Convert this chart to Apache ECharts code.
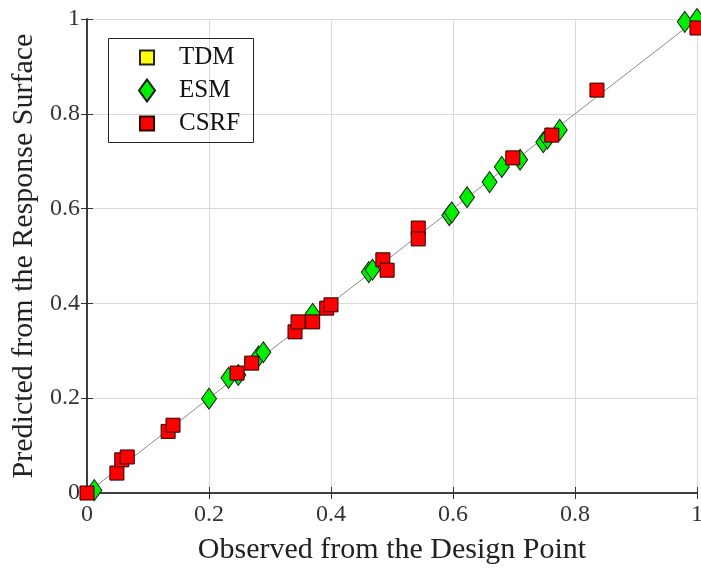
<!DOCTYPE html>
<html>
<head>
<meta charset="utf-8">
<script src="https://cdn.jsdelivr.net/npm/echarts@6/dist/echarts.min.js"></script>
<style>
html, body { margin: 0; padding: 0; background: #fff; }
#chart { width: 701px; height: 571px; }
</style>
</head>
<body>
<div id="chart"></div>
<script>
// axis ticks
var tickValues = [0, 0.2, 0.4, 0.6, 0.8, 1];
var seriesNames = ['TDM', 'ESM', 'CSRF'];

// points: [observed, predicted]
var tdmData = [];
var esmData = [
	[0.012, 0.006], [0.2, 0.199], [0.232, 0.243], [0.248, 0.249],
	[0.281, 0.288], [0.289, 0.297], [0.37, 0.378], [0.462, 0.466],
	[0.468, 0.471], [0.594, 0.586], [0.598, 0.592], [0.623, 0.624],
	[0.66, 0.656], [0.68, 0.688], [0.71, 0.703], [0.748, 0.74],
	[0.755, 0.748], [0.775, 0.766], [0.98, 0.994], [1.0, 1.0]
];
var csrfData = [
	[0, 0], [0.049, 0.042], [0.057, 0.07], [0.066, 0.076],
	[0.133, 0.13], [0.141, 0.143], [0.246, 0.253], [0.27, 0.274],
	[0.341, 0.34], [0.346, 0.361], [0.37, 0.361], [0.393, 0.39],
	[0.40, 0.397], [0.485, 0.492], [0.492, 0.47], [0.543, 0.559],
	[0.543, 0.536], [0.698, 0.707], [0.762, 0.755], [0.836, 0.85],
	[1.0, 0.981]
];
var refLine = [[0, 0], [1, 1]];

var serif = 'Liberation Serif';
var axisColor = '#333';

function labelFmt(v){
	return String(Math.round(v * 10) / 10);
}

// one legend per entry so each icon keeps its own size
function legendFor(name, centerY, w, h){
	return {
		data: [name],
		orient: 'vertical',
		left: 146 - w / 2,
		top: centerY - 11,
		padding: 0,
		itemWidth: w,
		itemHeight: h,
		selectedMode: false,
		textStyle: {
			fontFamily: serif,
			fontSize: 25,
			lineHeight: 22,
			color: '#111',
			padding: [0, 0, 0, 27 - w / 2]
		}
	};
}

var option = {
	backgroundColor: '#fff',
	animation: false,
	grid: { left: 87, right: 4, top: 19, bottom: 78, outerBoundsMode: 'none' },
	legend: [
		legendFor('TDM', 56, 14, 14),
		legendFor('ESM', 89, 16, 22),
		legendFor('CSRF', 122, 14, 14)
	],
	graphic: [{
		type: 'rect',
		left: 106, top: 36,
		shape: { width: 145, height: 104 },
		style: { fill: 'none', stroke: '#222', lineWidth: 1 },
		z: 10
	}],
	xAxis: [{
		type: 'value', min: 0, max: 1, interval: 0.2,
		name: 'Observed from the Design Point',
		nameLocation: 'middle', nameGap: 42,
		nameTextStyle: { fontFamily: serif, fontSize: 30, color: '#222' },
		axisLine: { lineStyle: { color: axisColor, width: 1.5 } },
		axisTick: { inside: true, length: 6, lineStyle: { color: axisColor } },
		axisLabel: { fontFamily: serif, fontSize: 24, color: '#333', margin: 10, formatter: labelFmt },
		splitLine: { lineStyle: { color: '#dadada', width: 1 } }
	}, {
		type: 'value', min: 0, max: 1, interval: 0.2, position: 'top',
		axisLine: { lineStyle: { color: axisColor, width: 1.5 } },
		axisTick: { inside: true, length: 6, lineStyle: { color: axisColor } },
		axisLabel: { show: false },
		splitLine: { show: false }
	}],
	yAxis: [{
		type: 'value', min: 0, max: 1, interval: 0.2,
		name: 'Predicted from the Response Surface',
		nameLocation: 'middle', nameGap: 43,
		nameTextStyle: { fontFamily: serif, fontSize: 30, color: '#222' },
		axisLine: { show: true, lineStyle: { color: axisColor, width: 1.5 } },
		axisTick: { show: true, inside: true, length: 6, lineStyle: { color: axisColor } },
		axisLabel: { fontFamily: serif, fontSize: 24, color: '#333', margin: 7, formatter: labelFmt },
		splitLine: { lineStyle: { color: '#dadada', width: 1 } }
	}, {
		type: 'value', min: 0, max: 1, interval: 0.2, position: 'right',
		axisLine: { show: true, lineStyle: { color: axisColor, width: 1.5 } },
		axisTick: { show: true, inside: true, length: 6, lineStyle: { color: axisColor } },
		axisLabel: { show: false },
		splitLine: { show: false }
	}],
	series: [{
		type: 'line',
		data: refLine,
		symbol: 'none',
		silent: true,
		lineStyle: { color: '#8a8a8a', width: 1 },
		z: 1
	}, {
		name: seriesNames[0],
		type: 'scatter',
		data: tdmData,
		symbol: 'rect',
		symbolSize: 14,
		itemStyle: { color: '#ffff00', borderColor: '#222', borderWidth: 1, opacity: 1 },
		z: 2
	}, {
		name: seriesNames[1],
		type: 'scatter',
		data: esmData,
		symbol: 'diamond',
		symbolSize: [15, 21],
		itemStyle: { color: '#00ee00', borderColor: '#1a1a1a', borderWidth: 1, opacity: 1 },
		z: 3
	}, {
		name: seriesNames[2],
		type: 'scatter',
		data: csrfData,
		symbol: 'rect',
		symbolSize: 14,
		itemStyle: { color: '#ff0000', borderColor: '#2a0000', borderWidth: 1, opacity: 1 },
		z: 4
	}]
};

var chart = echarts.init(document.getElementById('chart'), null, { renderer: 'canvas' });
chart.setOption(option);
</script>
</body>
</html>
